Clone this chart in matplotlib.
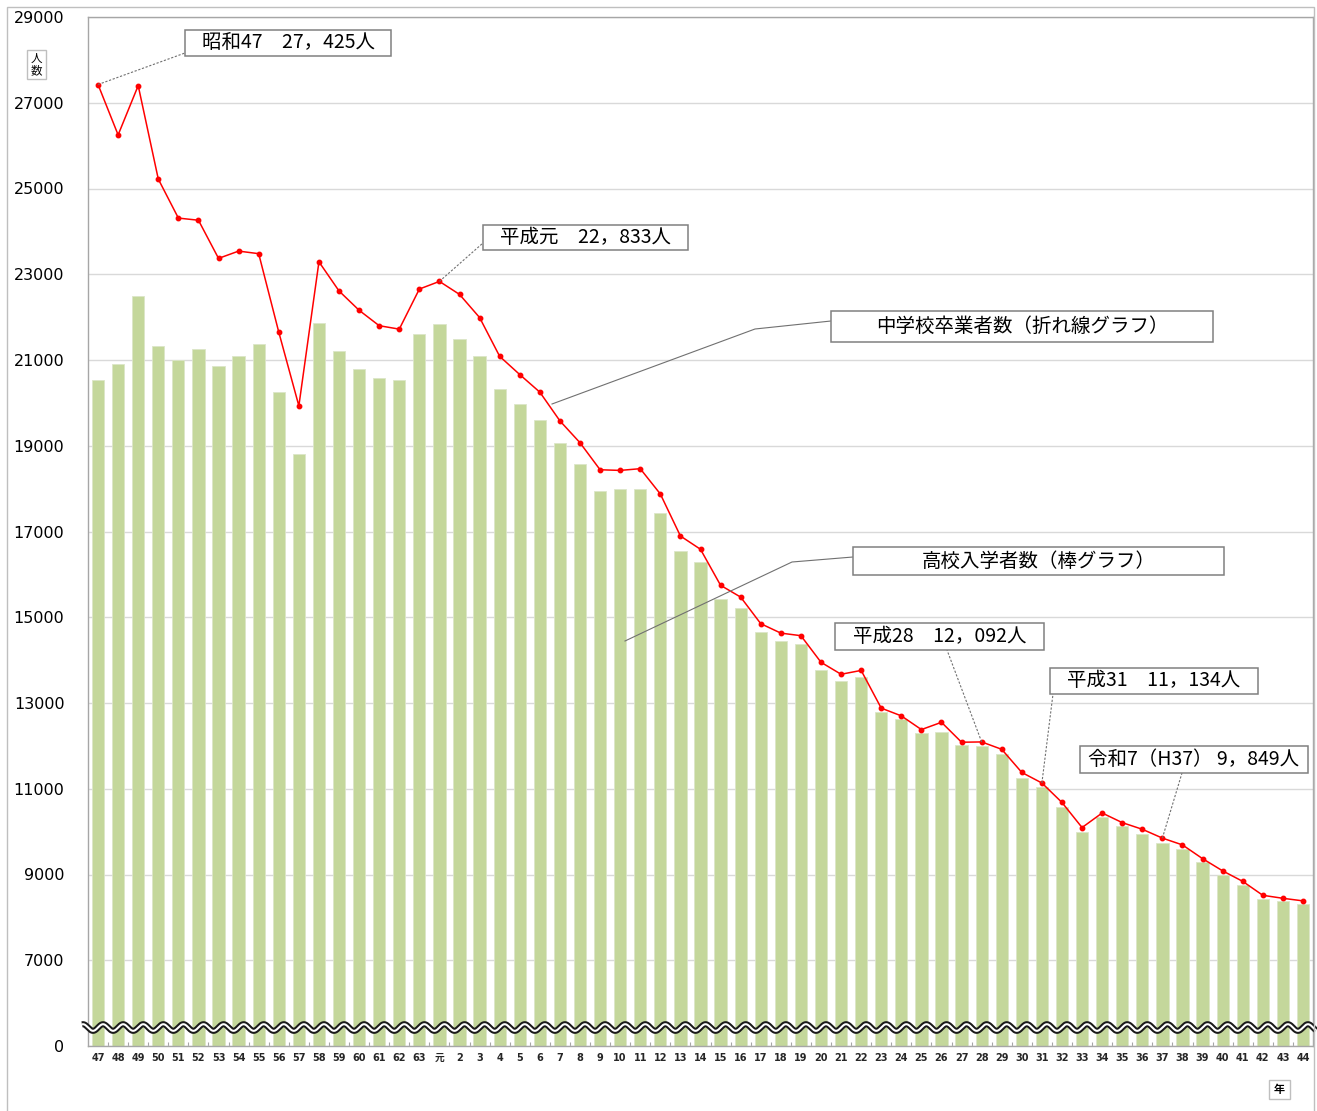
import numpy as np
import matplotlib
matplotlib.use("Agg")
import matplotlib.pyplot as plt
from matplotlib.patches import Rectangle
from matplotlib.lines import Line2D
from matplotlib.transforms import IdentityTransform

plt.rcParams['font.family'] = ['Noto Sans CJK JP', 'DejaVu Sans']

# ---- data -------------------------------------------------------------
years = ['47', '48', '49', '50', '51', '52', '53', '54', '55', '56', '57',
         '58', '59', '60', '61', '62', '63', '元', '2', '3', '4', '5', '6',
         '7', '8', '9', '10', '11', '12', '13', '14', '15', '16', '17', '18',
         '19', '20', '21', '22', '23', '24', '25', '26', '27', '28', '29',
         '30', '31', '32', '33', '34', '35', '36', '37', '38', '39', '40',
         '41', '42', '43', '44']

# 中学校卒業者数 (line)
graduates = [27425, 26250, 27400, 25220, 24310, 24260, 23370, 23540, 23480,
             21650, 19930, 23290, 22610, 22160, 21800, 21720, 22655, 22833,
             22530, 21990, 21085, 20660, 20250, 19580, 19070, 18440, 18425,
             18465, 17875, 16895, 16585, 15745, 15470, 14850, 14630, 14570,
             13950, 13670, 13760, 12880, 12700, 12380, 12550, 12085, 12092,
             11920, 11380, 11134, 10680, 10095, 10435, 10210, 10055, 9849,
             9690, 9370, 9085, 8840, 8515, 8445, 8385]

# 高校入学者数 (bars)
entrants = [20530, 20900, 22490, 21335, 20990, 21255, 20870, 21090, 21365,
            20260, 18810, 21855, 21210, 20800, 20590, 20540, 21615, 21850,
            21480, 21085, 20320, 19980, 19590, 19070, 18570, 17940, 17990,
            17990, 17425, 16540, 16280, 15435, 15215, 14655, 14445, 14375,
            13765, 13505, 13615, 12785, 12625, 12295, 12335, 12020, 12005,
            11810, 11260, 11035, 10585, 9990, 10340, 10120, 9955, 9745,
            9590, 9280, 9000, 8750, 8440, 8375, 8305]

y_ticks = [5000, 7000, 9000, 11000, 13000, 15000, 17000, 19000, 21000,
           23000, 25000, 27000, 29000]
y_tick_labels = ['0', '7000', '9000', '11000', '13000', '15000', '17000',
                 '19000', '21000', '23000', '25000', '27000', '29000']

# callouts: (label text, index into series, box left/top/right/bottom, leader end on box)
callouts = [
    ('昭和47　27，425人', 0, (185, 30, 391, 56), (185, 53)),
    ('平成元　22，833人', 17, (483, 225, 688, 250), (483, 243)),
    ('平成28　12，092人', 44, (835, 623, 1044, 650), (947, 650)),
    ('平成31　11，134人', 47, (1050, 668, 1258, 694), (1053, 694)),
    ('令和7（H37） 9，849人', 53, (1080, 746, 1308, 773), (1182, 773)),
]

# ---- figure -----------------------------------------------------------
W, H, DPI = 1317, 1111, 100
fig = plt.figure(figsize=(W / DPI, H / DPI), dpi=DPI)
fig.patch.set_facecolor('white')
ident = IdentityTransform()


def px(x, y):
    """pixel position measured from the top-left corner -> display coords"""
    return x, H - y


# outer frame
fig.add_artist(Rectangle(px(7, 1115), 1314 - 7, 1115 - 7, transform=ident,
                         fill=False, edgecolor='#BFBFBF', linewidth=1.0))

ax_l, ax_r, ax_t, ax_b = 88, 1313, 17, 1046
ax = fig.add_axes([ax_l / W, (H - ax_b) / H, (ax_r - ax_l) / W, (ax_b - ax_t) / H])

x = np.arange(len(years))
ax.bar(x, entrants, width=0.61, color='#C4D79B', edgecolor='#DCE6C8',
       linewidth=0.6, zorder=2)
ax.plot(x, graduates, color='#FF0000', linewidth=1.1, marker='o',
        markersize=3.2, markerfacecolor='#FF0000', markeredgecolor='#FF0000',
        zorder=4)

ax.set_xlim(-0.5, len(years) - 0.5)
ax.set_ylim(y_ticks[0], y_ticks[-1])
ax.set_yticks(y_ticks)
ax.set_yticklabels(y_tick_labels, fontfamily='DejaVu Sans', fontsize=11.5)
ax.tick_params(axis='y', length=0, pad=17)
ax.yaxis.grid(True, color='#D9D9D9', linewidth=1.0)
ax.set_axisbelow(True)

ax.set_xticks(x)
ax.set_xticklabels(years, fontfamily=['DejaVu Sans', 'Noto Sans CJK JP'],
                   fontsize=7.0, fontweight='bold', color='#262626')
ax.tick_params(axis='x', length=0, pad=5)
ax.set_xticks(x[:-1] + 0.5, minor=True)
ax.tick_params(axis='x', which='minor', direction='in', length=3,
               color='#A6A6A6', width=0.8)

for s in ax.spines.values():
    s.set_color('#A6A6A6')
    s.set_linewidth(1.0)

# axis break: double wavy band near the bottom of the value axis
wx = np.linspace(-0.8, len(years) - 0.35, 3000)
band_y = 5431
amp = 77
wy = band_y + amp * np.sin(2 * np.pi * wx)
ax.plot(wx, wy, color='#1A1A1A', linewidth=4.4, solid_capstyle='butt',
        zorder=6, clip_on=False)
ax.plot(wx, wy, color='white', linewidth=1.5, solid_capstyle='butt',
        zorder=7, clip_on=False)


# axis unit boxes
def small_box(x0, y0, x1, y1, text, size, weight='normal'):
    fig.add_artist(Rectangle(px(x0, y1), x1 - x0, y1 - y0, transform=ident,
                             facecolor='white', edgecolor='#BFBFBF',
                             linewidth=1.0, zorder=10))
    cx, cy = px((x0 + x1) / 2, (y0 + y1) / 2)
    fig.text(cx, cy, text, transform=ident, ha='center', va='center',
             fontsize=size, fontweight=weight, linespacing=0.95, zorder=11)


small_box(27, 50, 46, 79, '人\n数', 8.3)
small_box(1269, 1080, 1290, 1099, '年', 8.0, 'bold')


def label_box(x0, y0, x1, y1, text, size=14):
    fig.add_artist(Rectangle(px(x0, y1), x1 - x0, y1 - y0, transform=ident,
                             facecolor='white', edgecolor='#808080',
                             linewidth=1.1, zorder=10))
    cx, cy = px((x0 + x1) / 2, (y0 + y1) / 2)
    fig.text(cx, cy, text, transform=ident, ha='center', va='center',
             fontsize=size, color='black', zorder=11)


# value callouts with dotted leaders to the line points
for text, idx, (x0, y0, x1, y1), (bx, by) in callouts:
    p = ax.transData.transform((x[idx], graduates[idx]))
    q = px(bx, by)
    fig.add_artist(Line2D([p[0], q[0]], [p[1], q[1]], transform=ident,
                          color='#707070', linewidth=0.8,
                          linestyle=(0, (2, 1.5)), zorder=9))
    label_box(x0, y0, x1, y1, text)

# series labels with solid leaders
series_labels = [
    ('中学校卒業者数（折れ線グラフ）', (831, 311, 1213, 342),
     [(552, 404), (755, 329), (831, 321)]),
    ('高校入学者数（棒グラフ）', (853, 547, 1224, 575),
     [(625, 641), (792, 562), (853, 557)]),
]
for text, (x0, y0, x1, y1), path in series_labels:
    pts = [px(a, b) for a, b in path]
    fig.add_artist(Line2D([p[0] for p in pts], [p[1] for p in pts],
                          transform=ident, color='#707070', linewidth=0.8,
                          zorder=9))
    label_box(x0, y0, x1, y1, text)

fig.savefig('out.png', dpi=DPI, facecolor='white')
